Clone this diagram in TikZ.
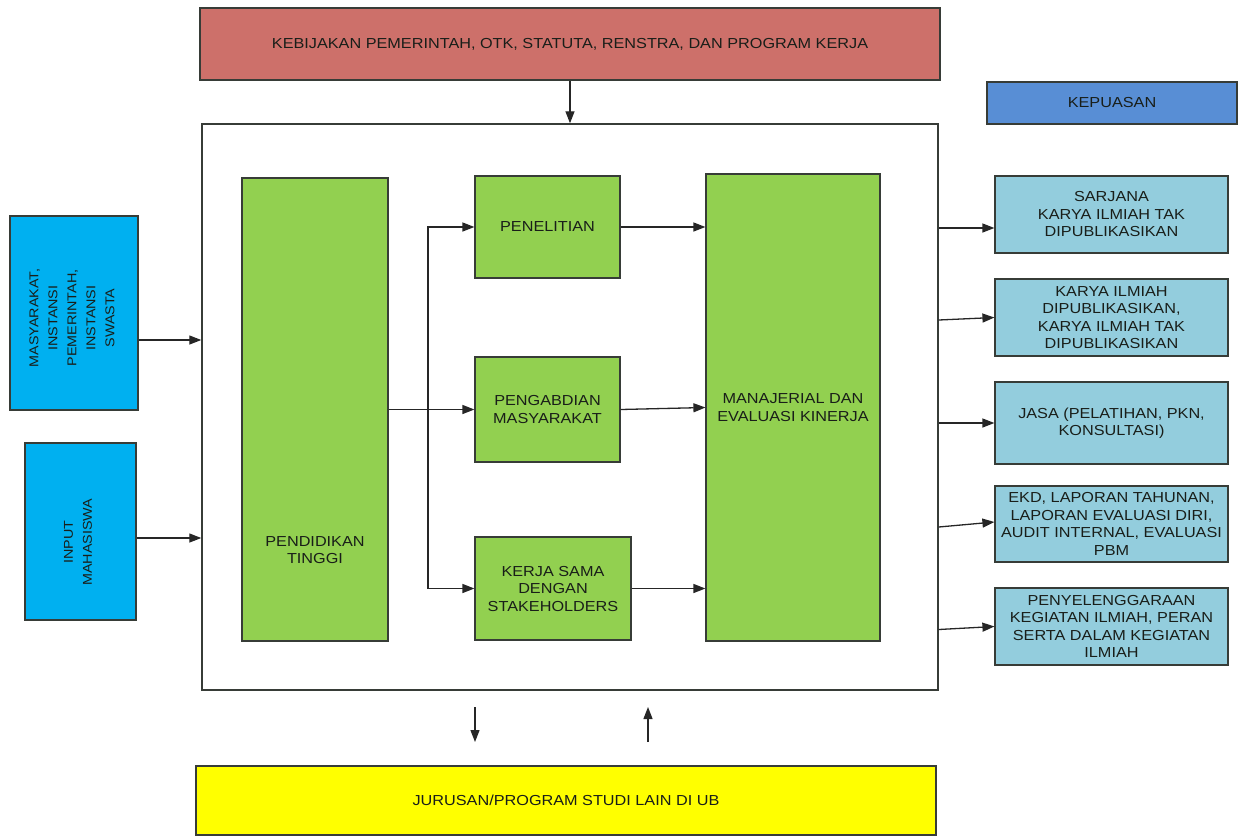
\documentclass[tikz,border=0pt]{standalone}
\usepackage{fontspec}
\setmainfont[FakeStretch=1.12]{Liberation Sans}
\usetikzlibrary{arrows.meta,calc}

\definecolor{policy}{RGB}{205,112,106}
\definecolor{satisf}{RGB}{88,142,213}
\definecolor{inputblue}{RGB}{0,176,240}
\definecolor{procgreen}{RGB}{146,208,80}
\definecolor{outblue}{RGB}{147,205,221}
\definecolor{unityellow}{RGB}{255,255,0}
\definecolor{edge}{RGB}{55,60,55}
\definecolor{txt}{RGB}{25,30,25}

\begin{document}
\begin{tikzpicture}[x=1pt,y=-1pt,
  box/.style={draw=edge, line width=1.2pt, inner sep=0pt, align=center,
    font=\fontsize{14.5}{17.5}\selectfont, text=txt},
  sidetext/.style={rotate=90, align=center, inner sep=0pt, text=txt,
    font=\fontsize{12.8}{19}\selectfont},
  plaintext/.style={align=center, inner sep=0pt, text=txt,
    font=\fontsize{14.5}{17.5}\selectfont},
  arr/.style={-{Triangle[length=12pt,width=9pt]}, line width=1.3pt, draw=black!85},
  line/.style={line width=1.3pt, draw=black!85}
]
\useasboundingbox (0,0) rectangle (1239,839);

% policy on top, frame of the faculty system
\node[box, fill=policy, minimum width=740pt, minimum height=72pt] (policy) at (570,44)
  {KEBIJAKAN PEMERINTAH, OTK, STATUTA, RENSTRA, DAN PROGRAM KERJA};
\node[box, fill=white, line width=1.4pt, minimum width=736pt, minimum height=566pt] (main) at (570,407) {};
\node[box, fill=satisf, minimum width=250pt, minimum height=42pt] (kep) at (1112,103) {KEPUASAN};

% inputs
\node[box, fill=inputblue, minimum width=128pt, minimum height=194pt] (masy) at (74,313) {};
\node[sidetext] (masytext) at (72,318) {MASYARAKAT,\\INSTANSI\\PEMERINTAH,\\INSTANSI\\SWASTA};
\node[box, fill=inputblue, minimum width=111pt, minimum height=177pt] (input) at (80.5,531.5) {};
\node[sidetext] (inputtext) at (78,542) {INPUT\\MAHASISWA};

% processes
\node[box, fill=procgreen, minimum width=146pt, minimum height=463pt] (pt) at (315,409.5) {};
\node[plaintext] (pttext) at (315,550) {PENDIDIKAN\\TINGGI};
\node[box, fill=procgreen, minimum width=145pt, minimum height=102pt] (pen) at (547.5,227) {PENELITIAN};
\node[box, fill=procgreen, minimum width=145pt, minimum height=105pt] (peng) at (547.5,409.5) {PENGABDIAN\\MASYARAKAT};
\node[box, fill=procgreen, minimum width=156pt, minimum height=103pt] (kerja) at (553,588.5) {KERJA SAMA\\DENGAN\\STAKEHOLDERS};
\node[box, fill=procgreen, minimum width=174pt, minimum height=467pt] (man) at (793,407.5) {MANAJERIAL DAN\\EVALUASI KINERJA};

% outputs
\node[box, fill=outblue, minimum width=233pt, minimum height=77pt] (r1) at (1111.5,214.5) {SARJANA\\KARYA ILMIAH TAK\\DIPUBLIKASIKAN};
\node[box, fill=outblue, minimum width=233pt, minimum height=77pt] (r2) at (1111.5,317.5) {KARYA ILMIAH\\DIPUBLIKASIKAN,\\KARYA ILMIAH TAK\\DIPUBLIKASIKAN};
\node[box, fill=outblue, minimum width=233pt, minimum height=82pt] (r3) at (1111.5,423) {JASA (PELATIHAN, PKN,\\KONSULTASI)};
\node[box, fill=outblue, minimum width=233pt, minimum height=76pt] (r4) at (1111.5,524) {EKD, LAPORAN TAHUNAN,\\LAPORAN EVALUASI DIRI,\\AUDIT INTERNAL, EVALUASI\\PBM};
\node[box, fill=outblue, minimum width=233pt, minimum height=77pt] (r5) at (1111.5,626.5) {PENYELENGGARAAN\\KEGIATAN ILMIAH, PERAN\\SERTA DALAM KEGIATAN\\ILMIAH};

% other departments
\node[box, fill=unityellow, minimum width=740pt, minimum height=69pt] (unit) at (566,800.5) {JURUSAN/PROGRAM STUDI LAIN DI UB};

% connectors
\draw[arr] (policy.south) -- (main.north);

\coordinate (m1) at ([yshift=-27pt]masy.east);
\draw[arr] (m1) -- (m1 -| main.west);
\coordinate (i1) at ([yshift=-6.5pt]input.east);
\draw[arr] (i1) -- (i1 -| main.west);

\coordinate (br) at (428,409.5);
\draw[line] (pt.east) -- (br);
\draw[arr] (br) -- (peng.west);
\draw[arr] (br) |- (pen.west);
\draw[arr] (br) |- (kerja.west);

\draw[arr] (pen.east) -- (pen.east -| man.west);
\draw[arr] (peng.east) -- ([yshift=2pt]peng.east -| man.west);
\draw[arr] (kerja.east) -- (kerja.east -| man.west);

\coordinate (o1) at ([yshift=-13.5pt]r1.west);
\draw[arr] (o1 -| main.east) -- (o1);
\draw[arr] ([yshift=-2.5pt]r2.west -| main.east) -- (r2.west);
\draw[arr] (r3.west -| main.east) -- (r3.west);
\draw[arr] ([yshift=-3pt]r4.west -| main.east) -- ([yshift=2pt]r4.west);
\draw[arr] ([yshift=-3pt]r5.west -| main.east) -- (r5.west);

\coordinate (d1) at (475,707);
\coordinate (d2) at (475,742);
\coordinate (u1) at (648,742);
\coordinate (u2) at (648,707);
\draw[arr] (d1) -- (d2);
\draw[arr] (u1) -- (u2);
\end{tikzpicture}
\end{document}
